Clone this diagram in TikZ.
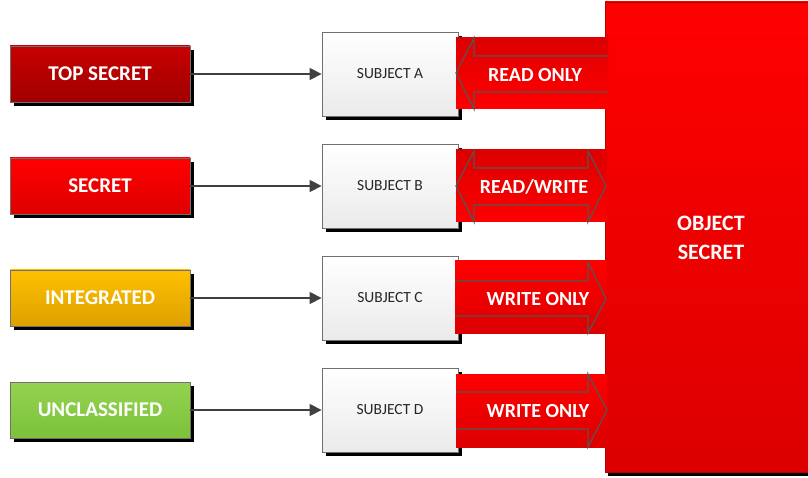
\documentclass[tikz,border=0pt]{standalone}
\usepackage{fontspec}
\setmainfont{Carlito}
\usetikzlibrary{arrows.meta,shadings}
\definecolor{cTopA}{HTML}{C80000}
\definecolor{cTopB}{HTML}{A00000}
\definecolor{cSecA}{HTML}{FF0000}
\definecolor{cSecB}{HTML}{DE0000}
\definecolor{cIntA}{HTML}{FFC000}
\definecolor{cIntB}{HTML}{DDA000}
\definecolor{cUncA}{HTML}{94D250}
\definecolor{cUncB}{HTML}{7CC23A}
\definecolor{cBord}{HTML}{707070}
\definecolor{cLine}{HTML}{404040}
\definecolor{cArr}{HTML}{555555}
\definecolor{cDark}{HTML}{DC0000}
\tikzset{
  x=1pt, y=-1pt,
  levelbox/.style={draw=cBord, line width=0.8pt, minimum width=180pt, minimum height=56pt,
    inner sep=0pt, text=white, font=\fontsize{21}{24}\selectfont\bfseries},
  subjbox/.style={draw=cBord, line width=0.8pt, minimum width=136pt, minimum height=84pt,
    inner sep=0pt, top color=white, bottom color=black!8, text=black!85,
    font=\fontsize{15.5}{18}\selectfont},
  conn/.style={draw=cLine, line width=1.4pt, -{Triangle[length=12pt,width=12pt]}},
  bandlbl/.style={text=white, font=\fontsize{20}{23}\selectfont\bfseries, inner sep=0pt},
  arrline/.style={draw=cArr, line width=1.2pt, line join=miter},
}
\begin{document}
\begin{tikzpicture}
\useasboundingbox (0,0) rectangle (808,478);
% object
\fill[black] (608,6) rectangle (812,476);
\node[minimum width=203pt, minimum height=470pt, inner sep=0pt, top color=cSecA, bottom color=cDark,
  draw=cDark!80!black, line width=0.5pt] (obj) at (706.5,237) {};
\node[text=white, align=center, inner sep=0pt,
  font=\fontsize{22}{29}\selectfont\bfseries] (objlbl) at (711,238) {OBJECT\\SECRET};

% shadows of level boxes and subjects
\foreach \yy in {46,158,270,382} {
  \fill[black] (14,\yy+4) rectangle (194,\yy+60);
}
\foreach \yy in {32,144,256,368} {
  \fill[black] (326,\yy+4) rectangle (462,\yy+88);
}
% level boxes
\node[levelbox, top color=cTopA, bottom color=cTopB] (l1) at (100,74) {TOP SECRET};
\node[levelbox, top color=cSecA, bottom color=cSecB] (l2) at (100,186) {SECRET};
\node[levelbox, top color=cIntA, bottom color=cIntB] (l3) at (100,298) {INTEGRATED};
\node[levelbox, top color=cUncA, bottom color=cUncB] (l4) at (100,410) {UNCLASSIFIED};
% subjects
\node[subjbox] (s1) at (390,74) {SUBJECT A};
\node[subjbox] (s2) at (390,186) {SUBJECT B};
\node[subjbox] (s3) at (390,298) {SUBJECT C};
\node[subjbox] (s4) at (390,410) {SUBJECT D};
% connectors
\draw[conn] (l1.east) -- (s1.west);
\draw[conn] (l2.east) -- (s2.west);
\draw[conn] (l3.east) -- (s3.west);
\draw[conn] (l4.east) -- (s4.west);

% band A: read only (left arrow)
\shade[top color=cDark, bottom color=cSecA] (456,38) rectangle (608,109);
\shade[top color=cDark!90!cSecA, bottom color=cSecA] (608,56) -- (474,56) -- (474,38) -- (456,73) -- (474,109) -- (474,92) -- (608,92) -- cycle;
\draw[arrline] (608,56) -- (474,56) -- (474,38) -- (456,73) -- (474,109) -- (474,92) -- (608,92);
\node[bandlbl] (ba) at (535,75) {READ ONLY};

% band B: read/write (double arrow)
\shade[top color=cDark, bottom color=cSecA] (456,150) rectangle (607,222);
\draw[arrline] (474,168) -- (474,151) -- (456,186) -- (474,222) -- (474,205) -- (588,205) -- (588,222) -- (606,186) -- (588,151) -- (588,168) -- cycle;
\node[bandlbl] (bb) at (534,187) {READ/WRITE};

% band C: write only (right arrow)
\shade[top color=cSecA, bottom color=cDark] (455,261) rectangle (607,333);
\draw[arrline] (455,281) -- (588,281) -- (588,262) -- (606,299) -- (588,333) -- (588,316) -- (455,316);
\node[bandlbl] (bc) at (538,299) {WRITE ONLY};

% band D: write only (right arrow)
\shade[top color=cSecA, bottom color=cDark] (456,374) rectangle (607,447);
\draw[arrline] (456,392) -- (588,392) -- (588,374) -- (607,410) -- (588,447) -- (588,429) -- (456,429);
\node[bandlbl] (bd) at (538,411) {WRITE ONLY};
\end{tikzpicture}
\end{document}
